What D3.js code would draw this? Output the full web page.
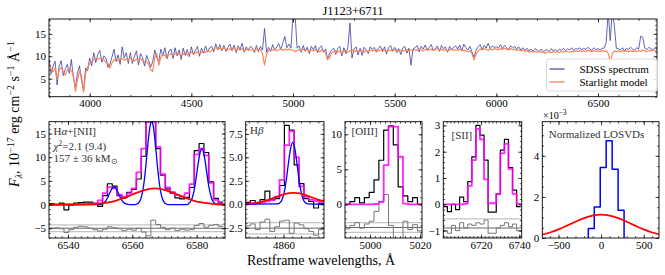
<!DOCTYPE html>
<html>
<head>
<meta charset="utf-8">
<script src="https://cdn.jsdelivr.net/npm/d3@7.9.0/dist/d3.min.js"></script>
<style>
  body { margin: 0; background: #fff; }
  svg { display: block; font-family: "Liberation Serif", "Times New Roman", serif; }
</style>
</head>
<body>
<svg id="fig" width="665" height="275"></svg>
<script>
// ---- top panel: full spectrum, 10 A grid from 3800 A ----
const specStart = 3800, specStep = 10;
const sdssFlux = [
  9.4, 6.1, 7.8, 8.9, 3.6, 7.8, 9.0, 5.7, 7.1, 8.2, 6.2, 9.3, 5.1, 3.0, 6.2, 7.9, 4.6, 2.3, 7.4, 6.8,
  9.6, 7.9, 10.8, 8.6, 10.4, 11.3, 8.7, 10.1, 9.6, 7.5, 8.3, 9.9, 11.6, 8.8, 10.3, 8.2, 12.1, 9.6, 10.8, 8.4,
  10.8, 8.4, 9.9, 11.2, 8.1, 10.6, 9.7, 7.8, 10.2, 9.0, 7.6, 8.8, 11.4, 9.7, 8.9, 11.6, 10.1, 11.9, 9.4, 11.2,
  11.6, 9.5, 11.9, 10.1, 11.4, 9.3, 11.8, 10.2, 11.5, 9.9, 12.1, 10.4, 11.3, 12.2, 10.0, 11.8, 10.7, 12.3, 11.0, 11.9,
  12.2, 11.0, 12.8, 11.4, 12.6, 11.2, 12.4, 11.1, 12.0, 12.7, 11.2, 12.5, 10.8, 12.3, 11.6, 12.9, 10.9, 12.1, 11.3, 12.2,
  11.9, 10.8, 12.4, 11.0, 12.2, 11.4, 16.2, 10.9, 12.0, 11.1, 12.6, 11.3, 12.1, 12.8, 11.5, 13.0, 14.4, 11.9, 12.7, 11.8,
  19.5, 19.5, 11.8, 12.3, 10.9, 12.4, 11.1, 12.0, 10.6, 12.2, 11.5, 12.4, 10.8, 11.9, 12.3, 10.9, 11.6, 9.4, 10.7, 11.4,
  11.8, 10.4, 11.7, 12.2, 10.1, 11.9, 10.6, 12.0, 17.4, 9.6, 11.6, 12.1, 10.3, 11.8, 10.2, 12.0, 11.4, 10.6, 12.1, 11.5,
  12.0, 10.9, 11.8, 12.3, 11.0, 12.1, 10.5, 11.9, 12.4, 11.1, 12.0, 10.8, 11.7, 10.4, 11.9, 12.2, 10.7, 11.8, 8.0, 11.6,
  11.9, 12.4, 11.0, 12.2, 11.6, 12.5, 11.3, 12.0, 12.6, 11.2, 11.8, 12.3, 11.1, 12.4, 11.7, 12.1, 10.9, 12.2, 11.4, 12.0,
  12.3, 11.6, 12.5, 11.2, 12.7, 11.9, 11.4, 12.2, 11.0, 9.8, 11.3, 12.1, 12.6, 11.5, 12.4, 11.8, 12.9, 11.7, 12.3, 12.0,
  12.1, 11.8, 12.6, 11.7, 12.4, 12.0, 11.5, 12.3, 11.9, 12.2, 11.6, 12.1, 11.4, 11.9, 11.3, 11.8, 11.2, 11.6, 11.1, 11.7,
  11.4, 11.0, 11.6, 10.9, 11.3, 11.5, 11.0, 11.7, 11.2, 11.5, 11.1, 11.6, 11.3, 11.8, 11.2, 11.6, 11.4, 11.9, 11.3, 11.7,
  11.6, 11.9, 11.4, 11.8, 11.5, 12.0, 11.6, 11.3, 11.9, 11.5, 11.7, 11.4, 11.8, 11.8, 13.0, 20.0, 13.5, 20.0, 17.0, 11.8,
  11.7, 11.4, 11.9, 11.2, 11.8, 11.5, 12.0, 11.6, 11.3, 11.9, 11.6, 14.5, 14.2, 11.8, 11.5, 12.0, 11.7, 11.4, 11.9, 11.6
];
const starlightFlux = [
  8.6, 7.2, 6.6, 7.4, 4.8, 6.9, 7.5, 6.6, 5.8, 6.9, 7.3, 6.8, 6.0, 2.2, 4.8, 6.6, 5.6, 2.0, 6.2, 7.6,
  8.3, 8.8, 9.2, 9.5, 9.3, 9.6, 9.4, 9.2, 8.6, 8.4, 7.4, 8.6, 9.2, 9.4, 9.0, 9.3, 9.5, 9.1, 9.4, 9.2,
  9.6, 9.3, 8.9, 9.4, 9.2, 9.5, 9.0, 8.7, 8.9, 8.2, 7.0, 6.6, 9.8, 10.6, 8.0, 9.8, 10.4, 10.2, 9.6, 10.4,
  10.5, 10.2, 10.7, 10.4, 10.6, 10.1, 10.5, 10.8, 10.3, 10.6, 10.9, 10.5, 10.7, 11.0, 10.6, 10.9, 11.1, 10.8, 11.2, 11.0,
  11.3, 11.6, 11.9, 11.7, 11.8, 11.5, 11.9, 11.6, 11.4, 11.7, 11.5, 11.8, 11.3, 11.6, 11.4, 11.7, 11.2, 11.5, 11.6, 11.4,
  11.5, 11.2, 11.6, 11.3, 11.5, 10.6, 8.0, 10.5, 11.2, 11.5, 11.3, 11.6, 11.2, 11.5, 11.7, 11.3, 11.6, 11.4, 11.6, 11.4,
  11.4, 11.0, 11.3, 11.5, 11.2, 11.6, 11.3, 11.5, 11.1, 11.4, 11.2, 11.5, 11.3, 11.0, 11.4, 11.2, 10.8, 9.2, 9.6, 10.8,
  11.0, 11.3, 10.9, 11.2, 10.6, 11.1, 11.3, 10.9, 11.2, 11.4, 11.0, 11.3, 11.1, 11.4, 11.2, 10.9, 11.3, 11.1, 11.4, 11.2,
  11.3, 11.5, 11.2, 11.4, 11.6, 11.3, 11.1, 11.4, 11.2, 11.5, 11.3, 11.6, 11.2, 11.4, 11.1, 11.3, 11.5, 11.2, 11.4, 11.3,
  11.5, 11.3, 11.6, 11.4, 11.2, 11.5, 11.7, 11.4, 11.6, 11.3, 11.5, 11.7, 11.4, 11.6, 11.3, 11.5, 11.2, 11.4, 11.6, 11.3,
  11.5, 11.3, 11.6, 11.4, 11.2, 11.3, 11.0, 11.2, 10.6, 9.2, 10.4, 11.2, 11.6, 11.4, 11.7, 11.5, 11.3, 11.6, 11.4, 11.7,
  11.6, 11.4, 11.7, 11.5, 11.8, 11.6, 11.4, 11.7, 11.5, 11.6, 11.3, 11.5, 11.2, 11.4, 11.1, 11.3, 10.9, 11.2, 11.0, 11.1,
  10.9, 11.1, 10.8, 11.0, 10.7, 10.9, 11.0, 10.8, 11.1, 10.9, 11.0, 10.8, 11.1, 10.9, 11.2, 11.0, 10.9, 11.1, 11.0, 11.2,
  11.1, 11.3, 11.0, 11.2, 11.1, 11.3, 11.2, 11.0, 11.3, 11.1, 11.2, 11.0, 11.3, 11.1, 11.2, 10.7, 8.6, 10.6, 11.2, 11.0,
  11.2, 11.0, 11.3, 11.1, 11.2, 11.0, 11.3, 11.1, 11.2, 11.0, 11.3, 11.1, 11.4, 11.2, 11.0, 11.3, 11.2, 11.4, 11.3, 11.1
];

// ---- H-alpha + [NII] ----
const haLam0 = 6535.0, haDLam = 1.5;
const haData = [0.2, 0.0, 0.3, -1.1, -0.1, 0.3, 0.4, 0.5, 0.5, 0.1, -0.4, 1.9, 4.4, 3.9, 1.9, 1.4, 2.6, 3.2,
  5.4, 10.2, 19.0, 19.0, 11.8, 6.2, 3.3, 2.4, 1.4, 1.2, 1.5, 3.6, 11.4, 12.9, 11.0, 4.8, 1.3, 0.5];
const haModel = [0.0, 0.0, 0.0, 0.01, 0.02, 0.03, 0.05, 0.09, 0.15, 0.3, 0.9, 2.4, 3.7, 3.4, 2.1, 1.6, 2.3, 3.4,
  6.8, 11.8, 17.4, 17.4, 12.2, 6.4, 3.6, 2.6, 2.0, 1.7, 2.4, 4.3, 10.6, 11.8, 10.4, 4.6, 1.0, 0.3];
const haResid = [-5.0, -4.9, -5.1, -5.9, -5.3, -4.8, -4.6, -4.7, -5.0, -5.3, -5.6, -5.2, -4.7, -4.9, -5.1, -5.5, -5.2, -5.4,
  -5.0, -5.8, -6.6, -3.3, -4.2, -4.8, -5.3, -5.0, -5.5, -5.2, -5.4, -5.3, -4.4, -4.0, -4.8, -4.4, -4.2, -4.6];
const haNarrow = [[6534.1, 0], [6549.8, 0], [6550.3, 0.08], [6550.8, 0.2], [6551.3, 0.44], [6551.8, 0.84], [6552.3, 1.43],
  [6552.8, 2.17], [6553.3, 2.92], [6553.8, 3.49], [6554.3, 3.7], [6554.8, 3.49], [6555.3, 2.92], [6555.8, 2.17],
  [6556.3, 1.43], [6556.8, 0.84], [6557.3, 0.44], [6557.8, 0.2], [6558.3, 0.08], [6559.0, 0], [6561.0, 0], [6561.5, 0.14],
  [6562.0, 0.39], [6562.5, 0.97], [6563.0, 2.08], [6563.5, 3.98], [6564.0, 6.79], [6564.5, 10.3], [6565.0, 13.87],
  [6565.5, 16.58], [6566.0, 17.6], [6566.5, 16.58], [6567.0, 13.87], [6567.5, 10.3], [6568.0, 6.79], [6568.5, 3.98],
  [6569.0, 2.08], [6569.5, 0.97], [6570.0, 0.39], [6570.5, 0.14], [6571.0, 0], [6577.0, 0], [6577.6, 0.26], [6578.1, 0.65],
  [6578.6, 1.39], [6579.1, 2.67], [6579.6, 4.55], [6580.1, 6.91], [6580.6, 9.3], [6581.1, 11.1], [6581.6, 11.8],
  [6582.1, 11.1], [6582.6, 9.3], [6583.1, 6.91], [6583.6, 4.55], [6584.1, 2.67], [6584.6, 1.39], [6585.1, 0.65],
  [6585.6, 0.26], [6586.2, 0], [6588.8, 0]];
const haBroad = [[6534.1, 0.0], [6545, 0.03], [6547, 0.07], [6549, 0.15], [6551, 0.29], [6553, 0.51], [6555, 0.85],
  [6557, 1.29], [6559, 1.84], [6561, 2.41], [6563, 2.91], [6565, 3.27], [6567, 3.4], [6569, 3.27], [6571, 2.91],
  [6573, 2.41], [6575, 1.84], [6577, 1.29], [6579, 0.85], [6581, 0.51], [6583, 0.29], [6585, 0.15], [6587, 0.07], [6588.8, 0.04]];

// ---- H-beta ----
const hbLam0 = 4851.8, hbDLam = 1.12;
const hbData = [0.2, 0.4, 0.1, 0.5, 1.4, 0.5, 0.6, 2.0, 8.4, 7.9, 4.2, 2.2, 0.6, 0.3, -0.4, 0.1];
const hbModel = [0.05, 0.08, 0.12, 0.2, 0.3, 0.45, 0.8, 2.6, 6.3, 7.8, 5.0, 1.9, 0.8, 0.5, 0.35, 0.25];
const hbResid = [-2.3, -2.1, -2.7, -1.9, -1.6, -2.9, -2.4, -1.8, -1.7, -3.1, -2.0, -2.2, -2.6, -2.9, -3.3, -2.7];
const hbNarrow = [[4851.3, 0], [4858.6, 0.03], [4859.1, 0.13], [4859.6, 0.43], [4860.1, 1.16], [4860.6, 2.46],
  [4861.1, 4.3], [4861.6, 5.9], [4862.1, 6.6], [4862.6, 5.9], [4863.1, 4.3], [4863.6, 2.46], [4864.1, 1.16],
  [4864.6, 0.43], [4865.1, 0.13], [4865.6, 0.03], [4869.3, 0]];
const hbBroad = [[4851.3, 0.04], [4852.3, 0.07], [4853.3, 0.12], [4854.3, 0.2], [4855.3, 0.3], [4856.3, 0.44],
  [4857.3, 0.6], [4858.3, 0.77], [4859.3, 0.95], [4860.3, 1.09], [4861.3, 1.19], [4862.3, 1.22], [4863.3, 1.19],
  [4864.3, 1.09], [4865.3, 0.95], [4866.3, 0.77], [4867.3, 0.6], [4868.3, 0.44], [4869.3, 0.3]];

// ---- [OIII] ----
const o3Lam0 = 4991.0, o3DLam = 1.93;
const o3Data = [0.0, 0.4, 0.95, 0.2, 0.95, 1.7, 3.5, 6.3, 10.6, 11.2, 8.5, 2.5, 1.2, 0.4, 0.95, 0.0];
const o3Model = [0, 0, 0, 0, 0, 0, 0.05, 0.4, 5.6, 11.1, 11.1, 6.8, 0.1, 0, 0, 0];
const o3Resid = [-3.5, -3.0, -2.6, -3.4, -2.8, -2.4, -1.0, 0.3, 1.4, -3.0, -6.5, -6.0, -2.4, -3.6, -2.9, -3.8];

// ---- [SII] ----
const s2Lam0 = 6701.37, s2DLam = 2.13;
const s2Data = [-0.09, -0.28, 0.0, -0.2, 0.27, 0.1, 0.86, 1.8, 3.0, 2.63, 1.68, -0.3, -0.3, 0.4, 2.06, 2.47, 1.4, 0.54, -0.09];
const s2Model = [0, 0, 0, 0, 0, 0.02, 0.7, 1.68, 2.87, 2.47, 0.95, 0.04, 0.04, 0.4, 1.94, 2.3, 1.35, 0.4, 0.02];
const s2Resid = [-1.0, -1.1, -0.8, -1.0, -0.7, -0.9, -0.75, -0.8, -0.7, -0.75, -0.6, -1.1, -1.1, -0.9, -0.8, -0.7, -0.85, -0.75, -1.0];

// ---- LOSVDs (units of 1e-3) ----
const losvdEdges = [-150, -80, -10, 60, 130, 200, 270];
const losvdNarrow = [0.46, 1.51, 3.43, 4.73, 3.34, 1.35];
const losvdVel = [-700, -600, -500, -400, -300, -200, -100, 0, 100, 200, 300, 400, 500, 600, 700];
const losvdBroad = [0.158, 0.267, 0.417, 0.599, 0.79, 0.97, 1.094, 1.14, 1.094, 0.97, 0.79, 0.599, 0.417, 0.267, 0.158];

const svg = d3.select('#fig');
let clipN = 0;

const rng = (a, b, s) => d3.range(Math.ceil(a / s - 1e-6), Math.floor(b / s + 1e-6) + 1).map(i => +(i * s).toFixed(6));

function makePanel(b, xDom, yDom, t) {
  const x = d3.scaleLinear().domain(xDom).range([b.x0, b.x1]);
  const y = d3.scaleLinear().domain(yDom).range([b.y1, b.y0]);
  const id = 'clip' + (clipN++);
  svg.append('clipPath').attr('id', id).append('rect')
    .attr('x', b.x0).attr('y', b.y0).attr('width', b.x1 - b.x0).attr('height', b.y1 - b.y0);
  const body = svg.append('g').attr('clip-path', `url(#${id})`);
  const axes = svg.append('g');

  const put = (axis, tr, vals, len, fmt) => {
    axis.tickValues(vals).tickSize(-len).tickPadding(3);
    if (fmt) axis.tickFormat(fmt); else axis.tickFormat('');
    const ga = axes.append('g').attr('transform', tr).call(axis);
    ga.select('.domain').remove();
    ga.attr('font-family', null).attr('font-size', 11);
    ga.selectAll('line').attr('stroke-width', 0.7);
    if (!fmt) ga.selectAll('text').remove();
  };
  const xMaj = rng(xDom[0], xDom[1], t.xs), xMin = rng(xDom[0], xDom[1], t.xm);
  const yMaj = rng(yDom[0], yDom[1], t.ys), yMin = rng(yDom[0], yDom[1], t.ym);
  put(d3.axisBottom(x), `translate(0,${b.y1})`, xMaj, 3.5, t.xf || d3.format('d'));
  put(d3.axisBottom(x), `translate(0,${b.y1})`, xMin, 1.8, null);
  put(d3.axisTop(x), `translate(0,${b.y0})`, xMaj, 3.5, null);
  put(d3.axisTop(x), `translate(0,${b.y0})`, xMin, 1.8, null);
  put(d3.axisLeft(y), `translate(${b.x0},0)`, yMaj, 3.5, t.yf || d3.format('d'));
  put(d3.axisLeft(y), `translate(${b.x0},0)`, yMin, 1.8, null);
  put(d3.axisRight(y), `translate(${b.x1},0)`, yMaj, 3.5, null);
  put(d3.axisRight(y), `translate(${b.x1},0)`, yMin, 1.8, null);
  axes.append('rect').attr('x', b.x0).attr('y', b.y0)
    .attr('width', b.x1 - b.x0).attr('height', b.y1 - b.y0)
    .attr('fill', 'none').attr('stroke', '#000').attr('stroke-width', 0.9);
  return { x, y, body };
}

// step outline from bin centres
function stepPts(lam0, dl, vals) {
  const pts = [];
  vals.forEach((v, i) => {
    const c = lam0 + i * dl;
    pts.push([c - dl / 2, v], [c + dl / 2, v]);
  });
  return pts;
}

function lineOf(p, curve) {
  return d3.line().x(d => p.x(d[0])).y(d => p.y(d[1])).curve(curve || d3.curveLinear);
}

function hline(p, v, color, w) {
  const [a, b] = p.x.domain();
  p.body.append('path').attr('d', lineOf(p)([[a, v], [b, v]]))
    .attr('fill', 'none').attr('stroke', color).attr('stroke-width', w);
}

function drawLine(p, pts, color, w, curve, op) {
  p.body.append('path').attr('d', lineOf(p, curve)(pts))
    .attr('fill', 'none').attr('stroke', color).attr('stroke-width', w)
    .attr('stroke-linejoin', 'round').attr('opacity', op == null ? 1 : op);
}

// ---------------- top panel ----------------
const topP = makePanel({ x0: 49, x1: 657, y0: 19, y1: 96.7 }, [3800, 6790], [1.0, 18.3],
  { xs: 500, xm: 100, ys: 5, ym: 1 });
const specPts = arr => arr.map((v, i) => [specStart + i * specStep, v]);
drawLine(topP, specPts(sdssFlux), '#34349e', 0.9, d3.curveLinear, 0.85);
drawLine(topP, specPts(starlightFlux), '#ff7f50', 1.2, d3.curveLinear, 0.95);

svg.append('text').attr('x', 353).attr('y', 15).attr('text-anchor', 'middle')
  .attr('font-size', 12.5).text('J1123+6711');

// legend
const lg = svg.append('g');
lg.append('rect').attr('x', 546.5).attr('y', 59).attr('width', 111).attr('height', 32).attr('rx', 2.5)
  .attr('fill', '#fff').attr('fill-opacity', 0.85).attr('stroke', '#d0d0d0').attr('stroke-width', 0.8);
lg.append('line').attr('x1', 549.5).attr('x2', 564.5).attr('y1', 69).attr('y2', 69)
  .attr('stroke', '#34349e').attr('stroke-width', 1.1);
lg.append('line').attr('x1', 549.5).attr('x2', 564.5).attr('y1', 82).attr('y2', 82)
  .attr('stroke', '#ff7f50').attr('stroke-width', 1.3);
lg.append('text').attr('x', 579.5).attr('y', 72.5).attr('font-size', 11).text('SDSS spectrum');
lg.append('text').attr('x', 579.5).attr('y', 85.5).attr('font-size', 11).text('Starlight model');

// ---------------- bottom panels ----------------
const yb0 = 121.7, yb1 = 238;
const ha = makePanel({ x0: 49, x1: 225, y0: yb0, y1: yb1 }, [6534.1, 6588.8], [-7.06, 17.5],
  { xs: 20, xm: 2, ys: 5, ym: 1 });
const hb = makePanel({ x0: 245.7, x1: 324, y0: yb0, y1: yb1 }, [4851.3, 4869.3], [-3.6, 8.8],
  { xs: 10, xm: 2, ys: 2.5, ym: 0.5, yf: d3.format('.1f') });
const o3 = makePanel({ x0: 345, x1: 422, y0: yb0, y1: yb1 }, [4990, 5020.8], [-4.8, 11.8],
  { xs: 20, xm: 2, ys: 5, ym: 1 });
const s2 = makePanel({ x0: 443.3, x1: 521.7, y0: yb0, y1: yb1 }, [6700.3, 6741.3], [-1.28, 3.14],
  { xs: 20, xm: 2, ys: 1, ym: 0.2 });
const lv = makePanel({ x0: 542.3, x1: 659, y0: yb0, y1: yb1 }, [-690, 680], [0, 5.66],
  { xs: 500, xm: 100, ys: 2, ym: 0.5 });

function residBlock(p, off, band) {
  hline(p, off + band, '#c4c4c4', 1.2);
  hline(p, off - band, '#c4c4c4', 1.2);
  hline(p, off, '#555', 0.9);
}

function linePanel(p, lam0, dl, data, model, resid, off, band, narrow, broad) {
  residBlock(p, off, band);
  drawLine(p, stepPts(lam0, dl, resid), '#777', 1.0);
  drawLine(p, stepPts(lam0, dl, data), '#000', 1.2);
  drawLine(p, stepPts(lam0, dl, model), '#ff00ff', 1.8, d3.curveLinear, 0.85);
  if (narrow) drawLine(p, narrow, '#0000ff', 1.3, d3.curveMonotoneX);
  if (broad) drawLine(p, broad, '#ff0000', 1.8, d3.curveMonotoneX);
}

linePanel(ha, haLam0, haDLam, haData, haModel, haResid, -5, 0.7, haNarrow, haBroad);
linePanel(hb, hbLam0, hbDLam, hbData, hbModel, hbResid, -2.55, 0.6, hbNarrow, hbBroad);
linePanel(o3, o3Lam0, o3DLam, o3Data, o3Model, o3Resid, -3.3, 0.7, null, null);
linePanel(s2, s2Lam0, s2DLam, s2Data, s2Model, s2Resid, -0.9, 0.35, null, null);

// LOSVD panel
const lvStep = [[losvdEdges[0], 0]];
losvdNarrow.forEach((v, i) => { lvStep.push([losvdEdges[i], v], [losvdEdges[i + 1], v]); });
lvStep.push([losvdEdges[losvdEdges.length - 1], 0]);
drawLine(lv, lvStep, '#0000ff', 1.5);
drawLine(lv, losvdVel.map((v, i) => [v, losvdBroad[i]]), '#ff0000', 1.8, d3.curveMonotoneX);

// ---------------- texts ----------------
const txt = (x, y, s, size, col) => svg.append('text').attr('x', x).attr('y', y)
  .attr('font-size', size || 11).attr('fill', col || '#333').text(s);

const t1 = txt(53.5, 135, 'H');
t1.append('tspan').attr('font-style', 'italic').text('α');
t1.append('tspan').text('+[NII]');
const t2 = txt(53.5, 149.5, '');
t2.append('tspan').attr('font-style', 'italic').text('χ');
t2.append('tspan').attr('font-size', 8).attr('dy', -4).text('2');
t2.append('tspan').attr('dy', 4).text('=2.1 (9.4)');
const t3 = txt(53.5, 161.5, '157 ± 36 kM');
t3.append('tspan').attr('font-size', 8).attr('dy', 2).text('⊙');

const t4 = txt(250, 134, 'H');
t4.append('tspan').attr('font-style', 'italic').text('β');
txt(351.5, 134.5, '[OIII]');
txt(451.5, 138.5, '[SII]');

svg.append('text').attr('x', 596.5).attr('y', 137.5).attr('text-anchor', 'middle')
  .attr('font-size', 11).attr('fill', '#333').text('Normalized LOSVDs');
const t5 = txt(543, 118.5, '×10', 10, '#000');
t5.append('tspan').attr('font-size', 7.5).attr('dy', -4).text('−3');

svg.append('text').attr('x', 321).attr('y', 265).attr('text-anchor', 'middle')
  .attr('font-size', 14).text('Restframe wavelengths, Å');

const yl = svg.append('text').attr('transform', 'translate(18.5,114) rotate(-90)')
  .attr('text-anchor', 'middle').attr('font-size', 14);
yl.append('tspan').attr('font-style', 'italic').text('F');
yl.append('tspan').attr('font-size', 10).attr('dy', 3).attr('font-style', 'italic').text('λ');
yl.append('tspan').attr('dy', -3).text(', 10');
yl.append('tspan').attr('font-size', 10).attr('dy', -5).text('−17');
yl.append('tspan').attr('dy', 5).text(' erg cm');
yl.append('tspan').attr('font-size', 10).attr('dy', -5).text('−2');
yl.append('tspan').attr('dy', 5).text(' s');
yl.append('tspan').attr('font-size', 10).attr('dy', -5).text('−1');
yl.append('tspan').attr('dy', 5).text(' Å');
yl.append('tspan').attr('font-size', 10).attr('dy', -5).text('−1');
</script>
</body>
</html>
